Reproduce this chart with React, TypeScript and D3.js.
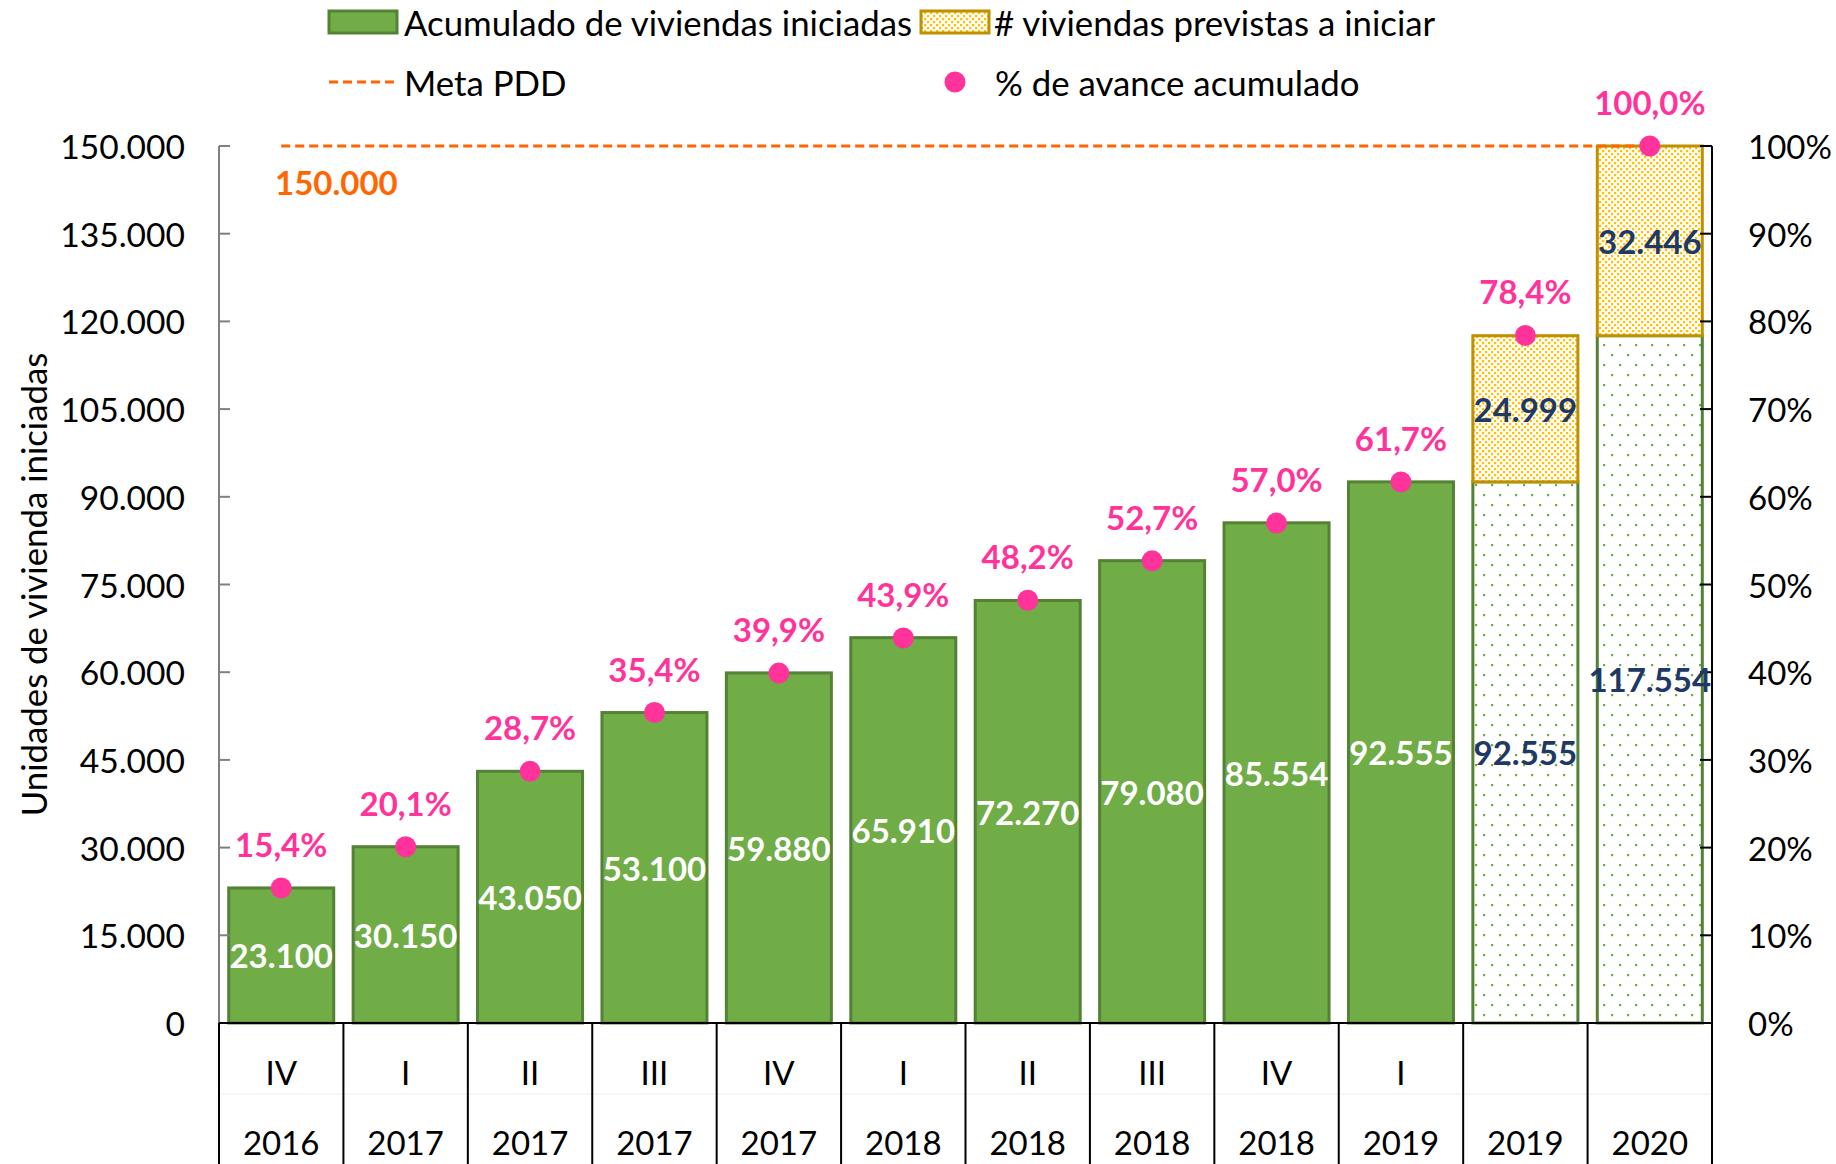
import React from 'react'
import * as d3 from 'd3'

// datos del gráfico
const quarters = ['IV', 'I', 'II', 'III', 'IV', 'I', 'II', 'III', 'IV', 'I', '', '']
const years = ['2016', '2017', '2017', '2017', '2017', '2018', '2018', '2018', '2018', '2019', '2019', '2020']
const iniciadas = [23100, 30150, 43050, 53100, 59880, 65910, 72270, 79080, 85554, 92555, 92555, 117554]
const previstas = [0, 0, 0, 0, 0, 0, 0, 0, 0, 0, 24999, 32446]
const avance = [15.4, 20.1, 28.7, 35.4, 39.9, 43.9, 48.2, 52.7, 57.0, 61.7, 78.4, 100.0]
const metaPDD = 150000
const leftTicks = [0, 15000, 30000, 45000, 60000, 75000, 90000, 105000, 120000, 135000, 150000]
const rightTicks = [0, 0.1, 0.2, 0.3, 0.4, 0.5, 0.6, 0.7, 0.8, 0.9, 1]
const projected = [false, false, false, false, false, false, false, false, false, false, true, true]

const W = 1836
const H = 1164
const margin = { top: 146, right: 124, bottom: 141, left: 219 }
const FONT = 'Lato, "Open Sans", sans-serif'
const GREEN = '#70AD47'
const GREEN_DARK = '#548235'
const YELLOW = '#FFC000'
const GOLD = '#BF9000'
const PINK = '#FF3399'
const ORANGE = '#FF6600'
const NAVY = '#203864'

const loc = d3.formatLocale({ decimal: ',', thousands: '.', grouping: [3], currency: ['', '€'] })
const fmtNum = loc.format(',.0f')
const fmtPct1 = (v: number) => loc.format('.1f')(v) + '%'
const fmtPct0 = loc.format('.0%')

export default function App() {
  const x0 = margin.left
  const x1 = W - margin.right
  const yBase = H - margin.bottom

  const x = d3
    .scaleBand<number>()
    .domain(iniciadas.map((d, i) => i))
    .range([x0, x1])
    .paddingInner(0.156)
    .paddingOuter(0.078)
  const step = x.step()
  const bw = x.bandwidth()
  const cx = (i: number) => (x(i) as number) + bw / 2

  const y = d3.scaleLinear().domain([0, 150000]).range([yBase, margin.top])
  const yR = d3.scaleLinear().domain([0, 1]).range([yBase, margin.top])

  const lineGen = d3
    .line<number>()
    .x((d, i) => cx(i))
    .y(d => y(d))
  const metaLine = iniciadas.map(() => metaPDD)

  const fs = 33
  const fsText = 34.8

  return (
    <svg width={W} height={H} style={{ position: 'absolute', left: 0, top: 0, background: '#fff' }} fontFamily={FONT}>
      <defs>
        <pattern id="greenDots" width={16} height={20} patternUnits="userSpaceOnUse">
          <rect width={16} height={20} fill="#fff" />
          <rect x={3} y={4} width={2.2} height={2.2} fill={GREEN} />
          <rect x={11} y={14} width={2.2} height={2.2} fill={GREEN} />
        </pattern>
        <pattern id="yellowDots" width={6} height={6} patternUnits="userSpaceOnUse">
          <rect width={6} height={6} fill="#FFFDF5" />
          <rect x={0} y={0} width={2.2} height={2.2} fill={YELLOW} />
          <rect x={3} y={3} width={2.2} height={2.2} fill={YELLOW} />
        </pattern>
      </defs>

      {/* Leyenda */}
      <g fontSize={fsText} fill="#000">
        <rect x={329} y={11} width={68} height={22} fill={GREEN} stroke={GREEN_DARK} strokeWidth={3} />
        <text x={404} y={22} dominantBaseline="central">Acumulado de viviendas iniciadas</text>
        <rect x={921} y={11} width={68} height={22} fill="url(#yellowDots)" stroke={GOLD} strokeWidth={3} />
        <text x={994} y={22} dominantBaseline="central"># viviendas previstas a iniciar</text>
        <line x1={329} x2={398} y1={82} y2={82} stroke={ORANGE} strokeWidth={3} strokeDasharray="9 5" />
        <text x={404} y={82} dominantBaseline="central">Meta PDD</text>
        <circle cx={955} cy={82} r={10.5} fill={PINK} />
        <text x={995} y={82} dominantBaseline="central">% de avance acumulado</text>
      </g>

      {/* Barras acumuladas */}
      {iniciadas.map((v, i) => (
        <rect
          key={'b' + i}
          x={x(i)}
          y={y(v)}
          width={bw}
          height={yBase - y(v)}
          fill={projected[i] ? 'url(#greenDots)' : GREEN}
          stroke={GREEN_DARK}
          strokeWidth={3}
        />
      ))}
      {/* Barras previstas */}
      {previstas.map((v, i) =>
        v > 0 ? (
          <rect
            key={'p' + i}
            x={x(i)}
            y={y(iniciadas[i] + v)}
            width={bw}
            height={y(iniciadas[i]) - y(iniciadas[i] + v)}
            fill="url(#yellowDots)"
            stroke={GOLD}
            strokeWidth={3}
          />
        ) : null
      )}

      {/* Eje izquierdo */}
      <line x1={x0} x2={x0} y1={margin.top} y2={yBase} stroke="#808080" strokeWidth={2} />
      {leftTicks.map(t => (
        <g key={'lt' + t}>
          <line x1={x0} x2={x0 + 11} y1={y(t)} y2={y(t)} stroke="#808080" strokeWidth={2} />
          <text x={185} y={y(t)} textAnchor="end" dominantBaseline="central" fontSize={33.6}>
            {fmtNum(t)}
          </text>
        </g>
      ))}
      <text
        transform={`translate(33, ${(margin.top + yBase) / 2}) rotate(-90)`}
        textAnchor="middle"
        dominantBaseline="central"
        fontSize={fsText}
      >
        Unidades de vivienda iniciadas
      </text>

      {/* Eje derecho */}
      <line x1={x1} x2={x1} y1={margin.top} y2={yBase} stroke="#000" strokeWidth={2} />
      {rightTicks.map(t => (
        <g key={'rt' + t}>
          <line x1={x1 - 12} x2={x1} y1={yR(t)} y2={yR(t)} stroke="#000" strokeWidth={2} />
          <text x={1748} y={yR(t)} dominantBaseline="central" fontSize={fs}>
            {fmtPct0(t)}
          </text>
        </g>
      ))}

      {/* Eje de categorías */}
      <line x1={x0} x2={x1} y1={1094} y2={1094} stroke="#ececec" strokeWidth={1} />
      <line x1={x0} x2={x1} y1={yBase} y2={yBase} stroke="#000" strokeWidth={2} />
      {d3.range(13).map(k => (
        <line key={'sep' + k} x1={x0 + k * step} x2={x0 + k * step} y1={yBase} y2={H} stroke="#000" strokeWidth={2} />
      ))}
      {quarters.map((q, i) => (
        <text key={'q' + i} x={cx(i)} y={1072} textAnchor="middle" dominantBaseline="central" fontSize={fs}>
          {q}
        </text>
      ))}
      {years.map((yr, i) => (
        <text key={'y' + i} x={cx(i)} y={1142} textAnchor="middle" dominantBaseline="central" fontSize={fs}>
          {yr}
        </text>
      ))}

      {/* Meta PDD */}
      <path d={lineGen(metaLine) || ''} fill="none" stroke={ORANGE} strokeWidth={3} strokeDasharray="9 5" />
      <text x={275} y={182} dominantBaseline="central" fontSize={fs} fontWeight="bold" fill={ORANGE}>
        {fmtNum(metaPDD)}
      </text>

      {/* Etiquetas de barras */}
      {iniciadas.map((v, i) => (
        <text
          key={'bl' + i}
          x={cx(i)}
          y={y(v / 2)}
          textAnchor="middle"
          dominantBaseline="central"
          fontSize={fs}
          fontWeight="bold"
          fill={projected[i] ? NAVY : '#fff'}
        >
          {fmtNum(v)}
        </text>
      ))}
      {previstas.map((v, i) =>
        v > 0 ? (
          <text
            key={'pl' + i}
            x={cx(i)}
            y={y(iniciadas[i] + v / 2)}
            textAnchor="middle"
            dominantBaseline="central"
            fontSize={fs}
            fontWeight="bold"
            fill={NAVY}
          >
            {fmtNum(v)}
          </text>
        ) : null
      )}

      {/* % de avance */}
      {avance.map((p, i) => (
        <g key={'av' + i}>
          <circle cx={cx(i)} cy={yR(p / 100)} r={10.5} fill={PINK} />
          <text
            x={cx(i)}
            y={yR(p / 100) - 44}
            textAnchor="middle"
            dominantBaseline="central"
            fontSize={fs}
            fontWeight="bold"
            fill={PINK}
          >
            {fmtPct1(p)}
          </text>
        </g>
      ))}
    </svg>
  )
}
